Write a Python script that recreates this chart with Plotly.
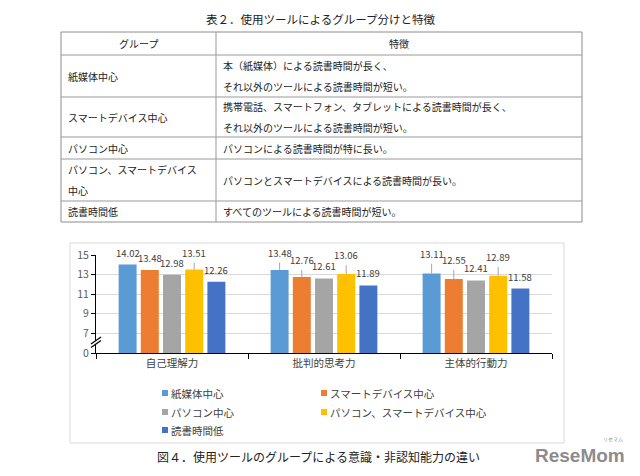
import plotly.graph_objects as go

# ---------------- data ----------------
categories = ["自己理解力", "批判的思考力", "主体的行動力"]
series_names = ["紙媒体中心", "スマートデバイス中心", "パソコン中心",
                "パソコン、スマートデバイス中心", "読書時間低"]
paper_vals = [14.02, 13.48, 13.11]
smart_vals = [13.48, 12.76, 12.55]
pc_vals = [12.98, 12.61, 12.41]
pcsmart_vals = [13.51, 13.06, 12.89]
low_vals = [12.26, 11.89, 11.58]
# upper error bars (data units, estimated from the visible whiskers)
paper_err = [0.0, 0.75, 1.0]
smart_err = [0.0, 0.7, 0.9]
pc_err = [0.0, 0.0, 0.0]
pcsmart_err = [0.7, 0.9, 0.9]
low_err = [0.0, 0.0, 0.0]
y_tick_values = [0, 7, 9, 11, 13, 15]

table_title = "表２．使用ツールによるグループ分けと特徴"
table_header = ["グループ", "特徴"]
table_groups = [["紙媒体中心"], ["スマートデバイス中心"], ["パソコン中心"],
                ["パソコン、スマートデバイス", "中心"], ["読書時間低"]]
table_features = [["本（紙媒体）による読書時間が長く、", "それ以外のツールによる読書時間が短い。"],
                  ["携帯電話、スマートフォン、タブレットによる読書時間が長く、", "それ以外のツールによる読書時間が短い。"],
                  ["パソコンによる読書時間が特に長い。"],
                  ["パソコンとスマートデバイスによる読書時間が長い。"],
                  ["すべてのツールによる読書時間が短い。"]]
caption = "図４．使用ツールのグループによる意識・非認知能力の違い"

# ---------------- styles ----------------
colors = ["#5B9BD5", "#ED7D31", "#A5A5A5", "#FFC000", "#4472C4"]
FONT = "Noto Sans CJK JP"
W, H = 640, 476
PL, PR, PT, PB = 96, 552, 255, 353  # plot area in pixels
BARGAP, GROUPGAP = 0.27, 0.19


def px_x(px):
    return (px - PL) / (PR - PL)


def px_y(py):
    return (PB - py) / (PB - PT)


def pos(v):
    """broken axis: 0..7 compressed into one step, then 2 units per step"""
    return v / 7.0 if v < 7 else (v - 7) / 2.0 + 1


def note(xpx, ypx, text, font, xanchor="center"):
    return dict(x=px_x(xpx), y=px_y(ypx), xref="paper", yref="paper",
                xanchor=xanchor, yanchor="middle", text=text, showarrow=False,
                font=font, borderpad=0)


all_vals = [paper_vals, smart_vals, pc_vals, pcsmart_vals, low_vals]
all_errs = [paper_err, smart_err, pc_err, pcsmart_err, low_err]

fig = go.Figure()
for name, vals, errs, col in zip(series_names, all_vals, all_errs, colors):
    fig.add_trace(go.Bar(
        name=name, x=categories, y=[pos(v) for v in vals],
        marker=dict(color=col, line=dict(width=0)),
        error_y=dict(type="data", symmetric=False,
                     array=[pos(v + e) - pos(v) for v, e in zip(vals, errs)],
                     arrayminus=[0] * len(vals), width=0, thickness=1,
                     color="#A6A6A6"),
        cliponaxis=False, hoverinfo="skip",
    ))

annotations = []
slot = (1 - BARGAP) / len(series_names)
for j, (vals, errs) in enumerate(zip(all_vals, all_errs)):
    for i, (v, e) in enumerate(zip(vals, errs)):
        annotations.append(dict(
            x=i + (j - (len(series_names) - 1) / 2) * slot, xref="x",
            y=pos(v + e), yref="y", yanchor="middle", yshift=12 if e == 0 else 10,
            text=f"{v:.2f}", showarrow=False, borderpad=0,
            font=dict(family=FONT, size=9.5, color="#404040")))

# ---- table ----
shapes = []
TX0, TX1, TXD = 61, 582, 216
row_edges = [32, 55, 97, 137, 159, 201, 222]
LINE_GAP = 20.5
tcol = "#999999"
shapes.append(dict(type="rect", xref="paper", yref="paper",
                   x0=px_x(TX0), x1=px_x(TX1), y0=px_y(row_edges[0]), y1=px_y(row_edges[-1]),
                   line=dict(color="#8c8c8c", width=1)))
for ry in row_edges[1:-1]:
    shapes.append(dict(type="line", xref="paper", yref="paper",
                       x0=px_x(TX0), x1=px_x(TX1), y0=px_y(ry), y1=px_y(ry),
                       line=dict(color=tcol, width=1)))
shapes.append(dict(type="line", xref="paper", yref="paper",
                   x0=px_x(TXD), x1=px_x(TXD), y0=px_y(row_edges[0]), y1=px_y(row_edges[-1]),
                   line=dict(color=tcol, width=1)))

tfont = dict(family=FONT, size=10, color="#222222")
annotations.append(note(320, 19, table_title, dict(family=FONT, size=11.5, color="#222222")))
hc = (row_edges[0] + row_edges[1]) / 2
annotations.append(note((TX0 + TXD) / 2, hc, table_header[0], tfont))
annotations.append(note((TXD + TX1) / 2, hc, table_header[1], tfont))
for r, (g, f) in enumerate(zip(table_groups, table_features)):
    c = (row_edges[r + 1] + row_edges[r + 2]) / 2
    for lines, xpx in ((g, TX0 + 6), (f, TXD + 6)):
        n = len(lines)
        for k, t in enumerate(lines):
            yy = c + (k - (n - 1) / 2) * LINE_GAP
            annotations.append(note(xpx, yy, t, tfont, xanchor="left"))

# ---- chart frame ----
shapes.append(dict(type="rect", xref="paper", yref="paper", layer="below",
                   x0=px_x(70), x1=px_x(564), y0=px_y(243), y1=px_y(443),
                   line=dict(color="#D9D9D9", width=1)))

# ---- axis break mark ----
shapes.append(dict(type="path", xref="paper", yref="paper",
                   path=f"M{px_x(91)},{px_y(344)} L{px_x(101)},{px_y(337)} "
                        f"L{px_x(101)},{px_y(340.5)} L{px_x(91)},{px_y(347.5)} Z",
                   fillcolor="white", line=dict(width=0)))
for dy in (0, 3.5):
    shapes.append(dict(type="line", xref="paper", yref="paper",
                       x0=px_x(91), y0=px_y(344 + dy), x1=px_x(101), y1=px_y(337 + dy),
                       line=dict(color="black", width=1.3)))

# ---- legend (manual, two columns) ----
leg_cols = [162, 321]
leg_rows = [393, 412, 430]
for k, (name, col) in enumerate(zip(series_names, colors)):
    xpx = leg_cols[k % 2]
    ypx = leg_rows[k // 2]
    shapes.append(dict(type="rect", xref="paper", yref="paper",
                       x0=px_x(xpx), x1=px_x(xpx + 6), y0=px_y(ypx + 3), y1=px_y(ypx - 3),
                       fillcolor=col, line=dict(width=0)))
    annotations.append(note(xpx + 8, ypx, name,
                            dict(family=FONT, size=10.5, color="#404040"), xanchor="left"))

# ---- caption and watermark ----
annotations.append(note(318, 456, caption, dict(family=FONT, size=12, color="#222222")))
annotations.append(note(580, 455, "<b>ReseMom</b>",
                        dict(family="Liberation Sans", size=19, color="#8C8C8C")))
annotations.append(note(613, 439, "リセマム", dict(family=FONT, size=5, color="#8C8C8C")))

fig.update_layout(
    width=W, height=H, autosize=False,
    margin=dict(l=PL, r=W - PR, t=PT, b=H - PB, pad=0),
    paper_bgcolor="white", plot_bgcolor="white",
    barmode="group", bargap=BARGAP, bargroupgap=GROUPGAP,
    showlegend=False,
    font=dict(family=FONT, size=10, color="#404040"),
    shapes=shapes, annotations=annotations,
    xaxis=dict(type="category", showline=True, linecolor="black", linewidth=1,
               ticks="outside", tickson="boundaries", ticklen=5, tickcolor="black",
               showgrid=False, tickfont=dict(family=FONT, size=10.5, color="#404040"),
               fixedrange=True),
    yaxis=dict(range=[0, 5], tickvals=[pos(v) for v in y_tick_values],
               ticktext=[str(v) for v in y_tick_values],
               showline=True, linecolor="black", linewidth=1,
               ticks="outside", ticklen=4, tickcolor="black",
               showgrid=True, gridcolor="#D9D9D9", gridwidth=1, zeroline=False,
               tickfont=dict(family=FONT, size=10.5, color="#595959"),
               fixedrange=True),
)

fig.write_html("out.html", config={"displayModeBar": False},
               post_script="document.body.style.margin='0';document.body.style.overflow='hidden';")
